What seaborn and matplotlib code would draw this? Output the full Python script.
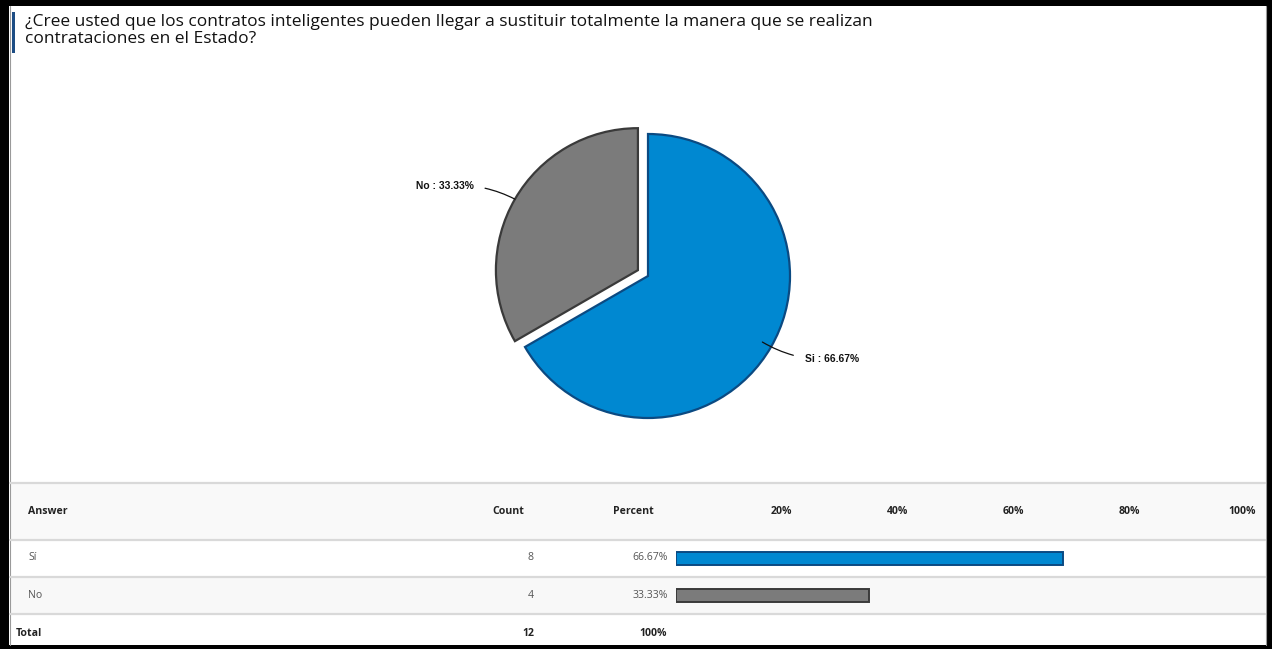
import numpy as np
import pandas as pd
import matplotlib
matplotlib.use("Agg")
import matplotlib.pyplot as plt
import matplotlib.transforms as mtransforms
from matplotlib.patches import Rectangle
import seaborn as sns

# ---------------- data ----------------
title = ("¿Cree usted que los contratos inteligentes pueden llegar a sustituir totalmente la manera que se realizan\n"
         "contrataciones en el Estado?")
answers = ["Sí", "No"]
pie_names = ["Si", "No"]
counts = [8, 4]
percents = [66.67, 33.33]
total_count = 12
total_pct = "100%"
tick_values = [20, 40, 60, 80, 100]
tick_labels = ["20%", "40%", "60%", "80%", "100%"]
colors = ["#0088d1", "#7b7b7b"]
edge_colors = ["#0b4a82", "#3a3a3a"]

sns.set_theme(style="white")
plt.rcParams['font.family'] = ['Open Sans', 'DejaVu Sans']

W, H = 1272, 649
fig = plt.figure(figsize=(W / 100, H / 100), dpi=100)
fig.patch.set_facecolor("white")

# background axes in pixel coordinates
bg = fig.add_axes([0, 0, 1, 1])
bg.set_xlim(0, W)
bg.set_ylim(H, 0)
bg.axis("off")
bg.set_zorder(0)

# black frame
for (x, y, w, h) in [(0, 0, W, 6), (0, 0, 9, H), (1266, 0, 6, H), (0, 645, W, 4)]:
    bg.add_patch(Rectangle((x, y), w, h, facecolor="black", edgecolor="none"))
bg.plot([9.5, 9.5], [6, 645], color="#9a9a9a", lw=0.8)
bg.plot([1265.5, 1265.5], [6, 645], color="#9a9a9a", lw=0.8)

# title
bg.add_patch(Rectangle((12, 12), 3, 41, facecolor="#1d4d84", edgecolor="none"))
bg.text(25, 14, title, ha="left", va="top", fontsize=12.5, color="#111111",
        linespacing=1.1)

# table rows
row_bg = [(483, 540, "#f9f9f9"), (540, 577, "white"), (577, 614, "#f8f8f8"), (614, 645, "white")]
for y0, y1, c in row_bg:
    bg.add_patch(Rectangle((10, y0), 1255, y1 - y0, facecolor=c, edgecolor="none"))
for y in [483, 540, 577, 614]:
    bg.plot([10, 1265], [y, y], color="#d9d9d9", lw=1.6)

header_y = 511
row_ys = [558, 596]
total_y = 633
hdr_kw = dict(fontsize=7.6, fontweight="bold", color="#222222", va="center")
bg.text(28, header_y, "Answer", ha="left", **hdr_kw)
bg.text(524, header_y, "Count", ha="right", **hdr_kw)
bg.text(613, header_y, "Percent", ha="left", **hdr_kw)

row_kw = dict(fontsize=7.6, color="#555555", va="center")
for a, c, p, y in zip(answers, counts, percents, row_ys):
    bg.text(28, y, a, ha="left", **row_kw)
    bg.text(534, y, f"{c}", ha="right", **row_kw)
    bg.text(668, y, f"{p:.2f}%", ha="right", **row_kw)
bg.text(16, total_y, "Total", ha="left", **hdr_kw)
bg.text(534, total_y, f"{total_count}", ha="right", **hdr_kw)
bg.text(667, total_y, total_pct, ha="right", **hdr_kw)

# ---------------- bar axes ----------------
bx0, bx1 = 676, 1256
by0, by1 = 540, 614
ax_bar = fig.add_axes([bx0 / W, 1 - by1 / H, (bx1 - bx0) / W, (by1 - by0) / H])
ax_bar.set_zorder(2)
ax_bar.patch.set_alpha(0)
df = pd.DataFrame({"answer": answers, "percent": percents})
sns.barplot(data=df, x="percent", y="answer", hue="answer", palette=colors,
            legend=False, orient="h", width=0.35, ax=ax_bar, saturation=1)
for patch, ec in zip(ax_bar.patches, edge_colors):
    patch.set_edgecolor(ec)
    patch.set_linewidth(1.4)
ax_bar.set_xlim(0, 100)
ax_bar.set_ylim(1.5, -0.5)
ax_bar.axis("off")

tr = mtransforms.blended_transform_factory(ax_bar.transData, bg.transData)
for v, lab in zip(tick_values, tick_labels):
    bg.text(v, header_y, lab, transform=tr, ha="right", **hdr_kw)

# ---------------- pie axes ----------------
R = 142.0
cx, cy = 648, 276
half = 220
ax_pie = fig.add_axes([(cx - half) / W, 1 - (cy + half) / H, 2 * half / W, 2 * half / H])
ax_pie.set_zorder(3)
ax_pie.patch.set_alpha(0)
explode = [0, 0.082]
wedges, _ = ax_pie.pie(percents, colors=colors, startangle=90, counterclock=False,
                       explode=explode, radius=1,
                       wedgeprops=dict(linewidth=1.6))
for w, ec in zip(wedges, edge_colors):
    w.set_edgecolor(ec)
lim = half / R
ax_pie.set_xlim(-lim, lim)
ax_pie.set_ylim(-lim, lim)
ax_pie.set_aspect("equal")
ax_pie.axis("off")

label_params = [  # r_in, r_out, angle shift
    (0.93, 1.25, 2.0),
    (1.0, 1.30, 2.9),
]
for w, name, p, ex, (r_in, r_out, d) in zip(wedges, pie_names, percents, explode, label_params):
    m = np.deg2rad((w.theta1 + w.theta2) / 2)
    c0 = np.array([np.cos(m), np.sin(m)]) * ex
    xy = c0 + r_in * np.array([np.cos(m), np.sin(m)])
    md = m + np.deg2rad(d)
    xyt = c0 + r_out * np.array([np.cos(md), np.sin(md)])
    ha = "left" if np.cos(m) > 0 else "right"
    ax_pie.annotate(f"{name} : {p:.2f}%", xy=xy, xytext=xyt, ha=ha, va="center",
                    fontsize=7.4, fontweight="bold", family=["Liberation Sans", "DejaVu Sans"],
                    color="#111111",
                    arrowprops=dict(arrowstyle="-", color="#111111", lw=0.9,
                                    shrinkA=6, shrinkB=0,
                                    connectionstyle="arc3,rad=-0.15"))

fig.savefig("out.png", dpi=100, facecolor="white")
